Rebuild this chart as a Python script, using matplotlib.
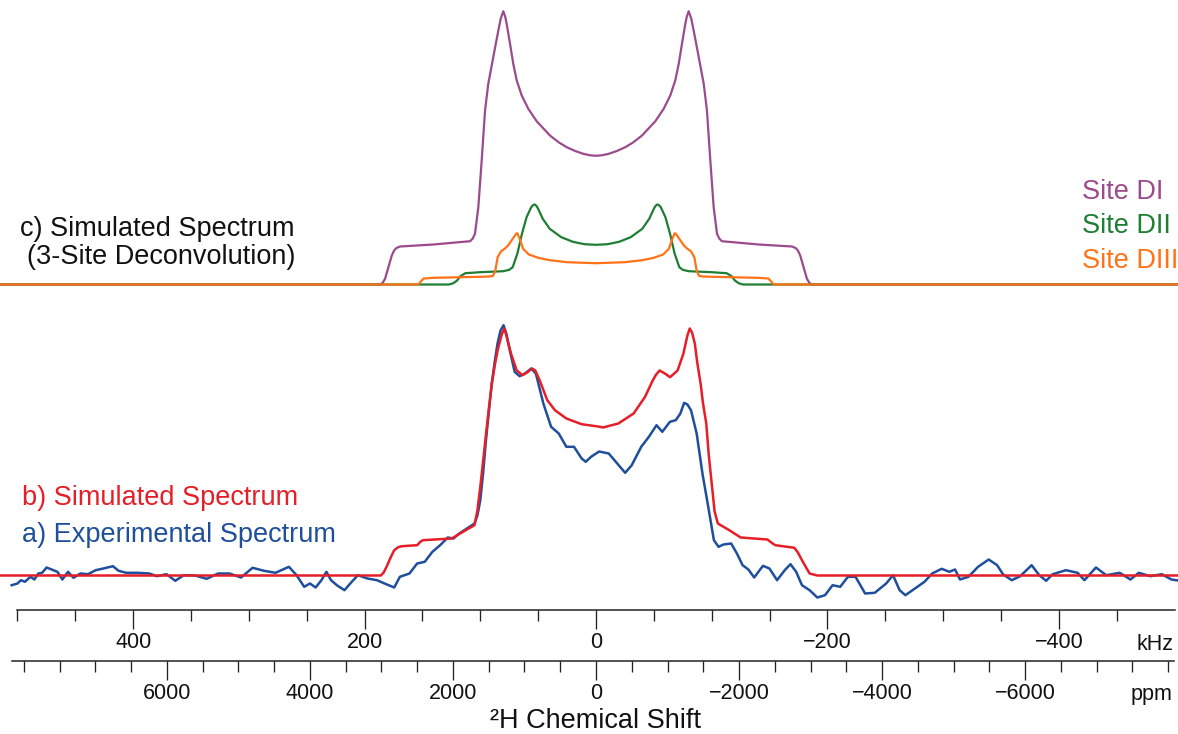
import numpy as np
import matplotlib.pyplot as plt
from matplotlib.ticker import FixedLocator

plt.rcParams['font.family'] = ['Liberation Sans', 'DejaVu Sans']

# ---- data: frequency (kHz) and intensity (a.u.) ----
# c) simulated 3-site deconvolution
di_khz = [515, 186.5, 184.5, 182.3, 179.4, 176.5, 174.5, 172.5, 169.3, 140.5, 108.8,
          106.5, 104.6, 101.7, 98.8, 95.9, 93.1, 88.8, 84.4, 82.3, 80.1, 78.5, 77.2,
          74.3, 71.5, 68.5, 64.2, 58.5, 51.3, 45, 39.8, 32, 25.3, 18, 11, 5, 0,
          -5, -11, -18, -25.3, -32, -39.8, -45, -51.3, -58.5, -64.2, -68.5, -71.5,
          -74.3, -77.2, -78.5, -80.1, -82.3, -84.4, -88.8, -93.1, -95.9, -98.8,
          -101.7, -104.6, -106.5, -108.8, -140.5, -169.3, -172.5, -174.5, -176.5,
          -179.4, -182.3, -184.5, -186.5, -503]
di_int = [0, 0, 1.5, 5.7, 17.3, 29, 34, 36.5, 38, 40, 43.3,
          46, 50.7, 77.3, 124, 174, 200.7, 227.3, 254, 266, 273.3, 268, 260.7,
          240.7, 220.7, 204, 189, 175.7, 163.3, 155.5, 149, 142, 137.3, 133.5, 130.7,
          129.2, 128.7,
          129.2, 130.7, 133.5, 137.3, 142, 149, 155.5, 163.3, 175.7, 189, 204, 220.7,
          240.7, 260.7, 268, 273.3, 266, 254, 227.3, 200.7, 174, 124,
          77.3, 50.7, 46, 43.3, 40, 38, 36.5, 34, 29,
          17.3, 5.7, 1.5, 0, 0]

dii_khz = [515, 127, 123.3, 120, 117.5, 113, 100, 80, 75, 72, 68, 64, 60, 56, 54.5,
           53, 51.5, 50, 46, 40, 30, 20, 10, 0, -10, -20, -30, -40, -46, -50, -51.5,
           -53, -54.5, -56, -60, -64, -68, -72, -75, -80, -100, -113, -117.5, -120,
           -123.3, -127, -503]
dii_int = [0, 0, 1.3, 4, 8, 11.3, 12.3, 13.3, 14.7, 17.3, 30.7, 50.7, 67.3, 77.3, 79.3,
           80, 78.7, 75.7, 65.7, 55.7, 47.3, 42.7, 40.3, 39.7, 40.3, 42.7, 47.3, 55.7,
           65.7, 75.7, 78.7, 80, 79.3, 77.3, 67.3, 50.7, 30.7, 17.3, 14.7, 13.3, 12.3,
           11.3, 8, 4, 1.3, 0, 0]

diii_khz = [515, 155, 153, 151, 149, 140, 100, 92, 89, 87, 85, 82, 79, 76, 72, 69, 68,
            66, 63, 58, 50, 40, 25, 0, -25, -40, -50, -58, -63, -66, -68, -69, -72,
            -76, -79, -82, -85, -87, -89, -92, -100, -140, -149, -151, -153, -155, -503]
diii_int = [0, 0, 0.7, 3.5, 6, 6.7, 7.7, 8, 8.7, 14, 27.3, 33.3, 35.7, 39, 45.7, 50.7,
            51.3, 45.7, 35.7, 30, 26.7, 24.3, 22.3, 21.3, 22.3, 24.3, 26.7, 30, 35.7,
            45.7, 51.3, 50.7, 45.7, 39, 35.7, 33.3, 27.3, 14, 8.7, 8, 7.7, 6.7, 6, 3.5,
            0.7, 0, 0]

# b) simulated spectrum
sim_khz = [515, 186, 183.5, 181, 177.5, 174.4, 171, 167.8, 154.5, 152, 149.6, 124.8,
           115, 105, 102.5, 100, 97.5, 95, 92.5, 90, 87.5, 85, 81.5, 79.2, 77, 73.5,
           68.6, 63.6, 59.5, 55.3, 52.5, 48.7, 42.1, 35.5, 25.6, 12.4, -3.5, -6,
           -19.3, -32.5, -42.4, -49, -52, -55, -59.5, -64, -70.5, -75.5, -79, -81,
           -83, -85.4, -87.5, -90.4, -92.5, -95.3, -97.5, -100.3, -102.5, -105.3,
           -115.2, -125, -148.2, -151.5, -154.9, -171.4, -174.5, -178, -184.6,
           -191.3, -503]
sim_int = [0, 0, 3, 8.7, 18, 25.3, 28.3, 29.3, 30.3, 33.5, 35.3, 37,
           43.7, 50.3, 65, 88.7, 115, 142, 168, 192, 210, 225.3, 241, 247, 238, 222,
           205.3, 200.3, 203, 207, 205, 195.3, 175.3, 165.3, 157, 151.3, 148.7, 148,
           152, 162, 178.7, 195, 201, 205, 202, 198.3, 205, 221.7, 240, 247,
           243, 232, 213, 192, 172, 152, 120, 88.7, 64, 52,
           45.3, 38, 36, 33, 30.3, 27.7, 23, 15.3, 2,
           0, 0]

# a) experimental spectrum
exp_khz = [505, 500, 497, 493.6, 488.7, 485.4, 482, 478.7, 474.8, 470.5, 465.5, 461.2,
           456.3, 451.6, 445.6, 439, 432.4, 425.8, 417.5, 412.6, 405.9, 396, 386.1,
           379.5, 371.2, 363.6, 356.3, 346.4, 336.5, 326.6, 316.7, 306.8, 296.8,
           286.9, 277, 265.4, 258.8, 252.2, 247.2, 242.3, 237.3, 233, 229, 224,
           217.4, 212.4, 205.8, 197.6, 189.3, 182.7, 174.4, 169.5, 161.2, 154.6, 148,
           141.4, 134.7, 128.1, 123.2, 118.2, 111.6, 105, 102.5, 100, 97.5, 95.1, 92.5,
           90.1, 87.5, 85.1, 82.5, 79.9, 77.5, 75.2, 70.3, 66, 61.4, 56, 52, 45.5,
           38.8, 32.2, 25.6, 19, 12.4, 8.9,
           3.9, -2.7, -11, -15.9, -25.2, -30.9, -39.1, -45.7, -52.3, -57.3, -63.9,
           -68.9, -72.9, -76.2, -79, -82.1, -87, -92, -97, -101.9, -105.9, -110.2,
           -116.8, -121.8, -126.7, -131.7, -136.7, -144.3, -149.9, -156.5, -163.1,
           -168.1, -173, -178, -184.6, -191.3, -197.9, -204.5, -211.1, -217.7, -224.3,
           -232.6, -240.9, -250.8, -256.7, -262.4, -267.4, -275.6, -283.9, -290.5,
           -298.8, -305.4, -310.3, -314.6, -321.9, -330.2, -339.4, -346.7, -351.7,
           -359.3, -366.6, -376.5, -383.1, -389, -394.7, -406.2, -416.2, -422.1,
           -432.1, -441, -452.6, -461.9, -469.1, -479.1, -489, -497.3, -505]
exp_int = [-9.7, -8, -4.7, -6.3, -1.3, -4, 2, 2.7, 8, 6, 3.7, -4,
           3.7, -2.3, 2, 1.3, 5.3, 7, 9.3, 4.7, 2.7, 2.7, 2,
           -0.7, 1.3, -5.3, 0.3, 0, -3.3, 2, 2, -2, 7.7,
           4.7, 2.7, 8.7, 0.3, -11.3, -8, -12, -4.7, 3.7, -4.7, -9.7,
           -14.7, -8, 0.3, -3, -4.7, -8, -12, -1.3, 2, 12, 13.7,
           23.7, 30.3, 38, 37, 42, 47, 52, 60, 75.3, 103, 135.3, 165,
           192, 214, 232, 245, 250.3, 242, 228.7, 203.7, 199.3, 202, 207, 202, 172,
           148.7, 142, 128.7, 128.7, 117, 113.7,
           119, 124, 122, 115.3, 102.7, 110.3, 128.7, 138.7, 150.3, 143.7, 153.7,
           155.3, 162, 172.7, 171, 165.3, 142, 102, 68.7, 35.3, 28.7, 31,
           32, 22, 10.3, 6, -2, 9.7, 7, -4.7, 5.3,
           11.3, 3.7, -9.7, -14.7, -22, -19.7, -9.7, -11.3, -1.3, -1.3,
           -18, -17.3, -8, 0.3, -14.7, -19.7, -13, -6.3, 2,
           6.7, 3.7, 6, -4, -1.3, 8.7, 16, 10.3, 1.3,
           -4.7, -0.7, 10.3, 0.3, -5.3, 1.3, 5.3, 2.7, -4.7,
           8, 0.3, 2.7, -4, 2.7, -0.7, 1.3, -4, -5.3]

khz_major = [400, 200, 0, -200, -400]
ppm_major = [6000, 4000, 2000, 0, -2000, -4000, -6000]
larmor_mhz = 61.8  # 2H frequency used for kHz <-> ppm

# ---- colours ----
c_di, c_dii, c_diii = '#9b4b8c', '#1e7e34', '#ff7316'
c_sim, c_exp = '#e61e28', '#1f4f9c'
c_axis = '#222222'
c_text = '#111111'

W, H = 1178, 734
fig = plt.figure(figsize=(W / 100, H / 100), dpi=100)
ax = fig.add_axes([0, 124 / H, 1, 610 / H])
ax.set_xlim(515.1, -503.0)
ax.set_ylim(0, 610)

top_off, bot_off = 325.5, 34.5
ax.plot(di_khz, np.array(di_int) + top_off, color=c_di, lw=1.6)
ax.plot(dii_khz, np.array(dii_int) + top_off, color=c_dii, lw=1.6)
ax.plot(diii_khz, np.array(diii_int) + top_off, color=c_diii, lw=1.6)
ax.plot(exp_khz, np.array(exp_int) + bot_off, color=c_exp, lw=1.8)
ax.plot(sim_khz, np.array(sim_int) + bot_off, color=c_sim, lw=1.8)

# kHz axis
for s in ['top', 'left', 'right']:
    ax.spines[s].set_visible(False)
ax.spines['bottom'].set_bounds(500, -500)
ax.spines['bottom'].set_color(c_axis)
ax.spines['bottom'].set_linewidth(1.1)
ax.set_yticks([])
ax.xaxis.set_major_locator(FixedLocator(khz_major))
ax.xaxis.set_minor_locator(FixedLocator(np.arange(500, -451, -50)))
ax.tick_params(axis='x', which='major', length=13.7, width=0.95, color=c_axis,
               direction='out', pad=2, labelsize=15.5, labelcolor=c_text)
ax.tick_params(axis='x', which='minor', length=7.9, width=0.95, color=c_axis,
               direction='out')

# ppm axis
sec = ax.secondary_xaxis((610 - 661) / 610,
                         functions=(lambda k: k * 1000 / larmor_mhz,
                                    lambda p: p * larmor_mhz / 1000))
sec.spines['bottom'].set_bounds(8170, -8085)
sec.spines['bottom'].set_color(c_axis)
sec.spines['bottom'].set_linewidth(1.1)
sec.xaxis.set_major_locator(FixedLocator(ppm_major))
sec.xaxis.set_minor_locator(FixedLocator(np.arange(8000, -8001, -500)))
sec.tick_params(axis='x', which='major', length=13.7, width=0.95, color=c_axis,
                direction='out', pad=2, labelsize=15.5, labelcolor=c_text)
sec.tick_params(axis='x', which='minor', length=7.9, width=0.95, color=c_axis,
                direction='out')


def ftext(x, y, s, **kw):
    fig.text(x / W, 1 - y / H, s, **kw)


ftext(1174, 650, 'kHz', ha='right', va='baseline', fontsize=15.5, color=c_text)
ftext(1172, 700, 'ppm', ha='right', va='baseline', fontsize=15.5, color=c_text)
ftext(596, 728, '²H Chemical Shift', ha='center', va='baseline', fontsize=19.5,
      color=c_text)

ftext(295, 236, 'c) Simulated Spectrum', ha='right', va='baseline', fontsize=19.5,
      color=c_text)
ftext(295, 263.5, '(3-Site Deconvolution)', ha='right', va='baseline', fontsize=19.5,
      color=c_text)
ftext(1082, 199, 'Site DI', ha='left', va='baseline', fontsize=19.5, color=c_di)
ftext(1082, 233, 'Site DII', ha='left', va='baseline', fontsize=19.5, color=c_dii)
ftext(1082, 267.5, 'Site DIII', ha='left', va='baseline', fontsize=19.5, color=c_diii)
ftext(22, 505, 'b) Simulated Spectrum', ha='left', va='baseline', fontsize=19.5,
      color=c_sim)
ftext(22, 542, 'a) Experimental Spectrum', ha='left', va='baseline', fontsize=19.5,
      color=c_exp)

fig.savefig('out.png', dpi=100, facecolor='white')
